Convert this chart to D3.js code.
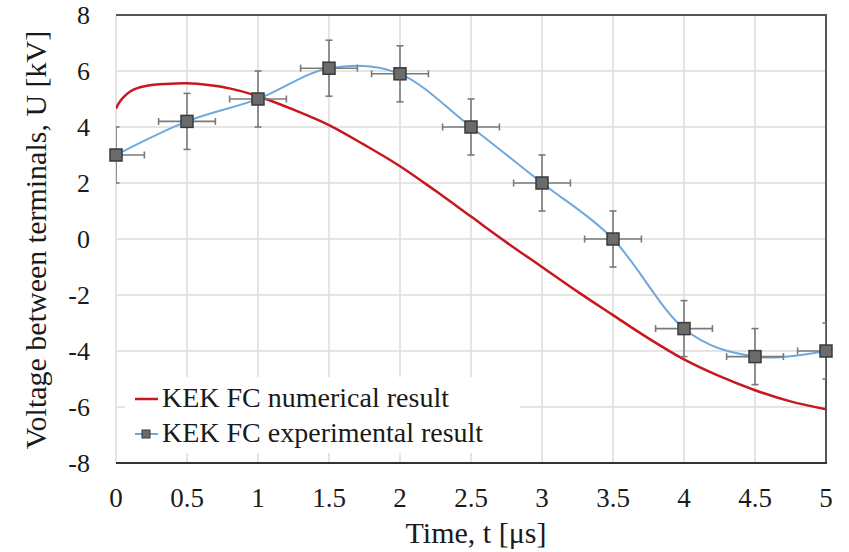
<!DOCTYPE html>
<html>
<head>
<meta charset="utf-8">
<script src="https://cdn.jsdelivr.net/npm/d3@7"></script>
<style>
  body { margin: 0; background: #fff; }
</style>
</head>
<body>
<svg id="chart" width="849" height="552"></svg>
<script>
// ---- data ----
const expTime = [0, 0.5, 1, 1.5, 2, 2.5, 3, 3.5, 4, 4.5, 5];
const expVoltage = [3, 4.2, 5, 6.1, 5.9, 4, 2, 0, -3.2, -4.2, -4];
const expErrY = 1.0;      // kV
const expErrX = 0.2;      // µs

const numTime = [0, 0.02, 0.05, 0.1, 0.15, 0.25, 0.35, 0.5, 0.65, 0.8, 1, 1.25, 1.5, 1.75, 2, 2.25, 2.5, 2.75, 3, 3.25, 3.5, 3.75, 4, 4.25, 4.5, 4.75, 5];
const numVoltage = [4.65, 4.85, 5.05, 5.27, 5.39, 5.5, 5.54, 5.56, 5.5, 5.38, 5.1, 4.62, 4.07, 3.36, 2.6, 1.72, 0.8, -0.12, -1.0, -1.88, -2.72, -3.55, -4.3, -4.9, -5.4, -5.8, -6.08];

const xTicks = [0, 0.5, 1, 1.5, 2, 2.5, 3, 3.5, 4, 4.5, 5];
const yTicks = [-8, -6, -4, -2, 0, 2, 4, 6, 8];
const xTickLabels = ["0", "0.5", "1", "1.5", "2", "2.5", "3", "3.5", "4", "4.5", "5"];
const yTickLabels = ["-8", "-6", "-4", "-2", "0", "2", "4", "6", "8"];
const seriesNames = ["KEK FC numerical result", "KEK FC experimental result"];

// ---- layout ----
const FONT = "Liberation Serif";
const svg = d3.select("#chart");
const L = 116, R = 826, T = 15, B = 463;
const x = d3.scaleLinear().domain([0, 5]).range([L, R]);
const y = d3.scaleLinear().domain([-8, 8]).range([B, T]);

const redColor = "#c8171e";
const blueColor = "#6fa8dc";
const gridColor = "#dcdcdc";
const errColor = "#7a7a7a";
const textColor = "#1a1a1a";

function addText(px, py, str, size, anchor) {
  return svg.append("text").attr("x", px).attr("y", py)
    .attr("text-anchor", anchor)
    .attr("font-family", FONT).attr("font-size", size).attr("fill", textColor)
    .style("font-family", "'Liberation Serif', serif", "important")
    .text(str);
}

svg.append("defs").append("clipPath").attr("id", "plotclip")
  .append("rect").attr("x", L).attr("y", T).attr("width", R - L).attr("height", B - T);

// grid
const grid = svg.append("g");
grid.selectAll(".vg").data(xTicks).join("line")
  .attr("x1", d => x(d)).attr("x2", d => x(d)).attr("y1", T).attr("y2", B)
  .attr("stroke", gridColor).attr("stroke-width", 1.5);
grid.selectAll(".hg").data(yTicks).join("line")
  .attr("x1", L).attr("x2", R).attr("y1", d => y(d)).attr("y2", d => y(d))
  .attr("stroke", gridColor).attr("stroke-width", 1.5);

// legend background (covers grid)
svg.append("rect").attr("x", 125).attr("y", 377).attr("width", 395).attr("height", 76).attr("fill", "#fff");

// borders: top, right, bottom
svg.append("line").attr("x1", L).attr("x2", R + 1).attr("y1", T).attr("y2", T).attr("stroke", "#555").attr("stroke-width", 2);
svg.append("line").attr("x1", R).attr("x2", R).attr("y1", T).attr("y2", B).attr("stroke", "#555").attr("stroke-width", 2);
svg.append("line").attr("x1", L).attr("x2", R + 1).attr("y1", B).attr("y2", B).attr("stroke", "#333").attr("stroke-width", 2.2);

// axis titles
addText(476, 543, "Time, t [μs]", 30, "middle");
addText(0, 0, "Voltage between terminals, U [kV]", 30, "middle")
  .attr("transform", "translate(46,240) rotate(-90)");

// tick labels
xTicks.forEach((d, i) => addText(x(d), B + 44, xTickLabels[i], 27, "middle"));
yTicks.forEach((d, i) => addText(L - 26, y(d) + 9, yTickLabels[i], 26, "end"));

const plot = svg.append("g").attr("clip-path", "url(#plotclip)");

// numerical curve
const numData = numTime.map((t, i) => [t, numVoltage[i]]);
plot.append("path").datum(numData)
  .attr("fill", "none").attr("stroke", redColor).attr("stroke-width", 2.5)
  .attr("d", d3.line().x(d => x(d[0])).y(d => y(d[1])).curve(d3.curveCatmullRom.alpha(0.5)));

// experimental curve
const expData = expTime.map((t, i) => [t, expVoltage[i]]);
plot.append("path").datum(expData)
  .attr("fill", "none").attr("stroke", blueColor).attr("stroke-width", 2)
  .attr("d", d3.line().x(d => x(d[0])).y(d => y(d[1])).curve(d3.curveCardinal.tension(0)));

// error bars
const cap = 3.5;
const eb = plot.append("g").attr("stroke", errColor).attr("stroke-width", 1.6);
expData.forEach(([t, v]) => {
  eb.append("line").attr("x1", x(t)).attr("x2", x(t)).attr("y1", y(v - expErrY)).attr("y2", y(v + expErrY));
  eb.append("line").attr("x1", x(t) - cap).attr("x2", x(t) + cap).attr("y1", y(v - expErrY)).attr("y2", y(v - expErrY));
  eb.append("line").attr("x1", x(t) - cap).attr("x2", x(t) + cap).attr("y1", y(v + expErrY)).attr("y2", y(v + expErrY));
  eb.append("line").attr("x1", x(t - expErrX)).attr("x2", x(t + expErrX)).attr("y1", y(v)).attr("y2", y(v));
  eb.append("line").attr("x1", x(t - expErrX)).attr("x2", x(t - expErrX)).attr("y1", y(v) - cap).attr("y2", y(v) + cap);
  eb.append("line").attr("x1", x(t + expErrX)).attr("x2", x(t + expErrX)).attr("y1", y(v) - cap).attr("y2", y(v) + cap);
});

// markers
const ms = 12;
svg.append("g").selectAll("rect").data(expData).join("rect")
  .attr("x", d => x(d[0]) - ms / 2).attr("y", d => y(d[1]) - ms / 2)
  .attr("width", ms).attr("height", ms)
  .attr("fill", "#6b6b6b").attr("stroke", "#3a3a3a").attr("stroke-width", 1.5);

// legend
svg.append("line").attr("x1", 135).attr("x2", 158).attr("y1", 399).attr("y2", 399)
  .attr("stroke", redColor).attr("stroke-width", 2.5);
svg.append("line").attr("x1", 135).attr("x2", 158).attr("y1", 434).attr("y2", 434)
  .attr("stroke", blueColor).attr("stroke-width", 2);
svg.append("rect").attr("x", 142).attr("y", 430).attr("width", 8).attr("height", 8)
  .attr("fill", "#6b6b6b").attr("stroke", "#3a3a3a").attr("stroke-width", 1);
seriesNames.forEach((s, i) => addText(162, 407 + i * 35, s, 28, "start"));
</script>
</body>
</html>
